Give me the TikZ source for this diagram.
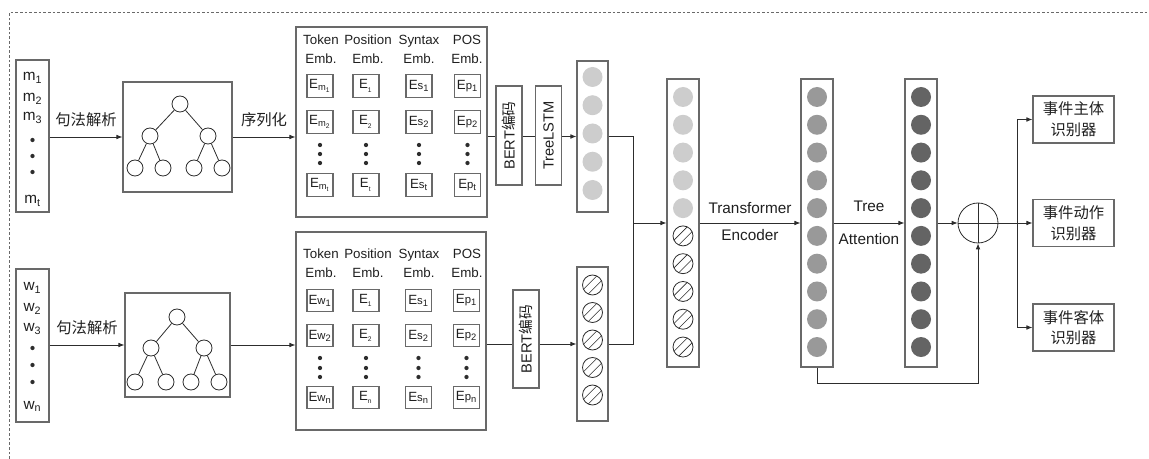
\documentclass[tikz,border=0pt]{standalone}
\usepackage{fontspec}
\setmainfont{Liberation Sans}
\newfontfamily\cjk{Noto Sans CJK SC}
\usetikzlibrary{positioning,arrows.meta,calc}
\definecolor{framegray}{RGB}{105,105,105}
\definecolor{wiregray}{RGB}{45,45,45}
\definecolor{unitlight}{RGB}{205,205,205}
\definecolor{unitmid}{RGB}{153,153,153}
\definecolor{unitdark}{RGB}{100,100,100}
% embedding labels: E with nested subscripts, or E plus letter and subscript
\newcommand{\emb}[2]{E\textsubscript{#1\textsubscript{#2}}}
\newcommand{\embn}[2]{E{\fontsize{8.5}{10}\selectfont #1}\textsubscript{#2}}
% two diagonal strokes inside a hatched unit
\newcommand{\hatchunit}[1]{%
  \begin{scope}
    \clip (#1.center) circle (7.5pt);
    \draw[hatch] ([shift={(-8.8pt,-5.2pt)}]#1.center) -- ([shift={(5.2pt,8.8pt)}]#1.center);
    \draw[hatch] ([shift={(-5.2pt,-8.8pt)}]#1.center) -- ([shift={(8.8pt,5.2pt)}]#1.center);
  \end{scope}}

\begin{document}
\begin{tikzpicture}[x=0.75pt,y=-0.75pt,text=black!88,
    box/.style={draw=framegray,line width=0.8pt,inner sep=0pt},
    embbox/.style={box,minimum width=19.5pt,minimum height=17pt,font=\fontsize{10}{11}\selectfont},
    wire/.style={draw=wiregray,line width=0.6pt},
    flow/.style={wire,-{Latex[length=4.5pt,width=3.5pt]}},
    treenode/.style={circle,draw=wiregray,line width=0.6pt,minimum size=12pt,inner sep=0pt},
    unit/.style={circle,minimum size=15pt,inner sep=0pt},
    hatchunitnode/.style={unit,draw=wiregray,line width=0.6pt},
    hatch/.style={wiregray,line width=0.45pt},
    seqtext/.style={anchor=base,inner sep=0pt,font=\fontsize{11.5}{13}\selectfont},
    head/.style={align=center,inner sep=0pt,font=\fontsize{10}{14.25}\selectfont},
    cjklbl/.style={inner sep=1pt,font=\fontsize{11.5}{14}\selectfont\cjk},
    latinlbl/.style={inner sep=1pt,font=\fontsize{11.5}{14}\selectfont},
    rotlbl/.style={box,rotate=90,minimum height=19.5pt,font=\fontsize{11}{13}\selectfont},
    detector/.style={box,minimum width=60.75pt,minimum height=35.25pt,align=center,
      font=\fontsize{11.5}{15.5}\selectfont\cjk}]
\useasboundingbox (0,0) rectangle (1149,459);
\draw[framegray,line width=0.6pt,dash pattern=on 2pt off 1.5pt] (9,459) -- (9,12.7) -- (1149,12.7);

% input sequences
\node[box,minimum width=24.75pt,minimum height=114pt] (mseq) at (32.5,136) {};
\foreach \t/\yy in {m\textsubscript{1}/81,m\textsubscript{2}/102,m\textsubscript{3}/121,m\textsubscript{t}/204}
  \node[seqtext] at (32.5,\yy) {\t};
\foreach \yy in {140,156,172} \fill[wiregray] (32.5,\yy) circle (1.6pt);
\node[box,minimum width=24.75pt,minimum height=114.75pt] (wseq) at (32.5,345.5) {};
\foreach \t/\yy in {w\textsubscript{1}/291,w\textsubscript{2}/312,w\textsubscript{3}/332,w\textsubscript{n}/409}
  \node[seqtext] at (32.5,\yy) {\t};
\foreach \yy in {348,365,382} \fill[wiregray] (32.5,\yy) circle (1.6pt);

% parse trees
\node[box,minimum width=81.75pt,minimum height=82.5pt] (treeM) at (177.5,137) {};
\foreach \n/\px/\py in {0/180/104,1/150/136,2/208/136,3/135/168,4/163/168,5/194/168,6/222/168}
  \node[treenode] (tm\n) at (\px,\py) {};
\foreach \a/\b in {0/1,0/2,1/3,1/4,2/5,2/6} \draw[wire] (tm\a) -- (tm\b);
\node[box,minimum width=78.75pt,minimum height=78pt] (treeW) at (177.5,345) {};
\foreach \n/\px/\py in {0/177/317,1/151/348,2/204/348,3/135/382,4/166/382,5/191/382,6/219/382}
  \node[treenode] (tw\n) at (\px,\py) {};
\foreach \a/\b in {0/1,0/2,1/3,1/4,2/5,2/6} \draw[wire] (tw\a) -- (tw\b);

\draw[flow] (mseq.east |- treeM) -- node[above=6pt,cjklbl] {句法解析} (treeM.west);
\draw[flow] (wseq.east |- treeW) -- node[above=6pt,cjklbl] {句法解析} (treeW.west);

% embedding tables
\node[box,minimum width=143.25pt,minimum height=142.5pt] (embM) at (391.5,122) {};
\node[box,minimum width=142.5pt,minimum height=148.5pt] (embW) at (391,331) {};
\foreach \h/\xx in {Token/321,Position/368,Syntax/419,POS/467} {
  \node[head] at (\xx,49.5) {\h\\Emb.};
  \node[head] at (\xx,263) {\h\\Emb.};
}
\foreach \col/\xx in {1/320,2/366,3/419,4/467.5} {
  \foreach \yy in {145,154,163} \fill[wiregray] (\xx,\yy) circle (1.6pt);
}
\foreach \row/\yy/\idx in {1/86/1,2/122/2,3/185/t} {
  \node[embbox] (eM1\row) at (320,\yy) {\emb{m}{\idx}};
  \node[embbox] (eM2\row) at (366,\yy) {\emb{}{\idx}};
  \node[embbox] (eM3\row) at (419,\yy) {\embn{s}{\idx}};
  \node[embbox] (eM4\row) at (467.5,\yy) {\embn{p}{\idx}};
}
\foreach \col/\xx in {1/320,2/366,3/418.5,4/466.5} {
  \foreach \yy in {358,368,377} \fill[wiregray] (\xx,\yy) circle (1.6pt);
}
\foreach \row/\yy/\idx in {1/300.5/1,2/335.5/2,3/397.5/n} {
  \node[embbox] (eW1\row) at (320,\yy) {\embn{w}{\idx}};
  \node[embbox] (eW2\row) at (366,\yy) {\emb{}{\idx}};
  \node[embbox] (eW3\row) at (418.5,\yy) {\embn{s}{\idx}};
  \node[embbox] (eW4\row) at (466.5,\yy) {\embn{p}{\idx}};
}
\draw[flow] (treeM.east) -- node[above=6pt,cjklbl] {序列化} (embM.west |- treeM);
\draw[flow] (treeW.east) -- (embW.west |- treeW);

% encoders
\node[rotlbl,minimum width=74.25pt] (bertM) at (509,135.5) {BERT{\cjk 编码}};
\node[rotlbl,minimum width=74.25pt] (lstmM) at (548.5,135.5) {TreeLSTM};
\node[rotlbl,minimum width=73.5pt] (bertW) at (526,339) {BERT{\cjk 编码}};

\node[box,minimum width=23.25pt,minimum height=113.25pt] (vecM) at (592.5,136.5) {};
\foreach \i in {0,...,4} \node[unit,fill=unitlight] (vm\i) at (592.5,{77+28.25*\i}) {};
\node[box,minimum width=23.25pt,minimum height=115.5pt] (vecW) at (592.5,344) {};
\foreach \i in {0,...,4} {
  \node[hatchunitnode] (vw\i) at (592.5,{285+27.5*\i}) {};
  \hatchunit{vw\i}
}

\draw[wire] (embM.east |- vecM) -- (bertM.north |- vecM);
\draw[wire] (bertM.south |- vecM) -- (lstmM.north |- vecM);
\draw[flow] (lstmM.south |- vecM) -- (vecM.west);
\draw[wire] (embW.east |- vecW) -- (bertW.north |- vecW);
\draw[flow] (bertW.south |- vecW) -- (vecW.west);

% sequence layers
\foreach \s/\xx in {A/683,B/817,C/921}
  \node[box,minimum width=24pt,minimum height=216pt] (seq\s) at (\xx,223) {};
\foreach \i in {0,...,4} \node[unit,fill=unitlight] (sa\i) at (683,{97+27.78*\i}) {};
\foreach \i in {5,...,9} {
  \node[hatchunitnode] (sa\i) at (683,{97+27.78*\i}) {};
  \hatchunit{sa\i}
}
\foreach \i in {0,...,9} {
  \node[unit,fill=unitmid] (sb\i) at (817,{97+27.78*\i}) {};
  \node[unit,fill=unitdark] (sc\i) at (921,{97+27.78*\i}) {};
}

\coordinate (join) at (633,223);
\draw[wire] (vecM.east) -| (join);
\draw[wire] (vecW.east) -| (join);
\draw[flow] (join) -- (seqA.west);
\draw[flow] (seqA.east) -- node[above=6pt,latinlbl] {Transformer}
  node[below=3.8pt,latinlbl] {Encoder} (seqB.west);
\draw[flow] (seqB.east) -- node[above=6.9pt,latinlbl] {Tree}
  node[below=6.8pt,latinlbl] {Attention} (seqC.west);

% fusion and outputs
\node[circle,draw=wiregray,line width=0.6pt,minimum size=30pt,inner sep=0pt] (plus) at (978,223) {};
\draw[wire] (plus.north) -- (plus.south) (plus.west) -- (plus.east);
\draw[flow] (seqC.east) -- (plus.west);
\draw[flow] (seqB.south) -- ++(0,16) -| (plus.south);

\node[detector] (detA) at (1073.5,119.5) {事件主体\\识别器};
\node[detector] (detB) at (1073.5,223) {事件动作\\识别器};
\node[detector] (detC) at (1073.5,327.5) {事件客体\\识别器};
\coordinate (fork) at (1017,223);
\draw[flow] (plus.east) -- (detB.west);
\draw[flow] (fork) |- (detA.west);
\draw[flow] (fork) |- (detC.west);
\end{tikzpicture}
\end{document}
